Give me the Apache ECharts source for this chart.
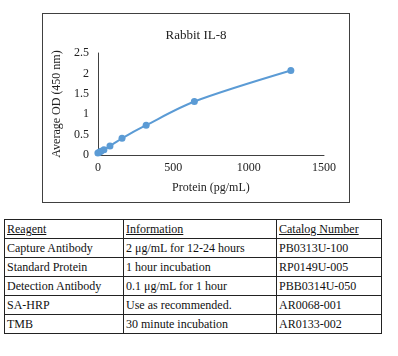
<!DOCTYPE html>
<html>
<head>
<meta charset="utf-8">
<script src="https://cdn.jsdelivr.net/npm/echarts@6/dist/echarts.min.js"></script>
<style>
  html, body { margin: 0; padding: 0; background: #fff; }
  body { width: 398px; height: 356px; position: relative; overflow: hidden; font-family: "Liberation Serif", "DejaVu Serif", serif; }
  #frame { position: absolute; left: 42px; top: 13px; width: 306px; height: 188px; border: 1px solid #404040; }
  #chart { width: 306px; height: 188px; }
  table { position: absolute; left: 4px; top: 219px; border-collapse: collapse; table-layout: fixed; width: 377px; font-size: 12px; color: #111; }
  td { border: 1px solid #222; height: 18px; padding: 0 2px; white-space: nowrap; overflow: hidden; line-height: 18px; }
  tr.h td { text-decoration: underline; }
</style>
</head>
<body>
<div id="frame"><div id="chart"></div></div>
<table id="tbl"><colgroup><col style="width:119px"><col style="width:153px"><col style="width:105px"></colgroup></table>
<script>
const title = "Rabbit IL-8";
const xName = "Protein (pg/mL)";
const yName = "Average OD (450 nm)";
const concentrations = [0, 10, 20, 40, 80, 160, 320, 640, 1280];
const odValues = [0.05, 0.07, 0.09, 0.13, 0.22, 0.41, 0.73, 1.31, 2.07];

const tableHeader = ["Reagent", "Information", "Catalog Number"];
const reagents = ["Capture Antibody", "Standard Protein", "Detection Antibody", "SA-HRP", "TMB"];
const information = ["2 μg/mL for 12-24 hours", "1 hour incubation", "0.1 μg/mL for 1 hour", "Use as recommended.", "30 minute incubation"];
const catalogNumbers = ["PB0313U-100", "RP0149U-005", "PBB0314U-050", "AR0068-001", "AR0133-002"];

const tbl = document.getElementById('tbl');
function addRow(cells, cls) {
  const tr = document.createElement('tr');
  if (cls) tr.className = cls;
  cells.forEach((c) => {
    const td = document.createElement('td');
    td.textContent = c;
    tr.appendChild(td);
  });
  tbl.appendChild(tr);
}
addRow(tableHeader, 'h');
reagents.forEach((r, i) => addRow([r, information[i], catalogNumbers[i]]));

const chart = echarts.init(document.getElementById('chart'), null, { renderer: 'canvas' });
const font = "'Liberation Serif', serif";
chart.setOption({
  animation: false,
  textStyle: { fontFamily: font },
  title: {
    text: title, left: 'center', top: 10,
    textStyle: { fontFamily: font, fontSize: 13, fontWeight: 'normal', color: '#222' }
  },
  grid: { left: 54, right: 25, top: 39, bottom: 47 },
  xAxis: {
    type: 'value', min: 0, max: 1500, interval: 500,
    name: xName, nameLocation: 'middle', nameGap: 27,
    nameTextStyle: { fontFamily: font, fontSize: 12, color: '#222' },
    axisLine: { show: true, lineStyle: { color: '#404040', width: 1 } },
    axisTick: { show: false },
    splitLine: { show: false },
    axisLabel: { fontFamily: font, fontSize: 12, color: '#222', margin: 7, formatter: (v) => String(v) }
  },
  yAxis: {
    type: 'value', min: 0, max: 2.5, interval: 0.5,
    name: yName, nameLocation: 'middle', nameGap: 32,
    nameTextStyle: { fontFamily: font, fontSize: 12, color: '#222' },
    axisLine: { show: true, lineStyle: { color: '#404040', width: 1 } },
    axisTick: { show: false },
    splitLine: { show: false },
    axisLabel: { fontFamily: font, fontSize: 12, color: '#222', margin: 9, formatter: (v) => String(v) }
  },
  series: [{
    type: 'line',
    data: concentrations.map((c, i) => [c, odValues[i]]),
    smooth: 0.3,
    symbol: 'circle', symbolSize: 7,
    lineStyle: { color: '#5B9BD5', width: 2 },
    itemStyle: { color: '#5B9BD5' }
  }]
});
</script>
</body>
</html>
